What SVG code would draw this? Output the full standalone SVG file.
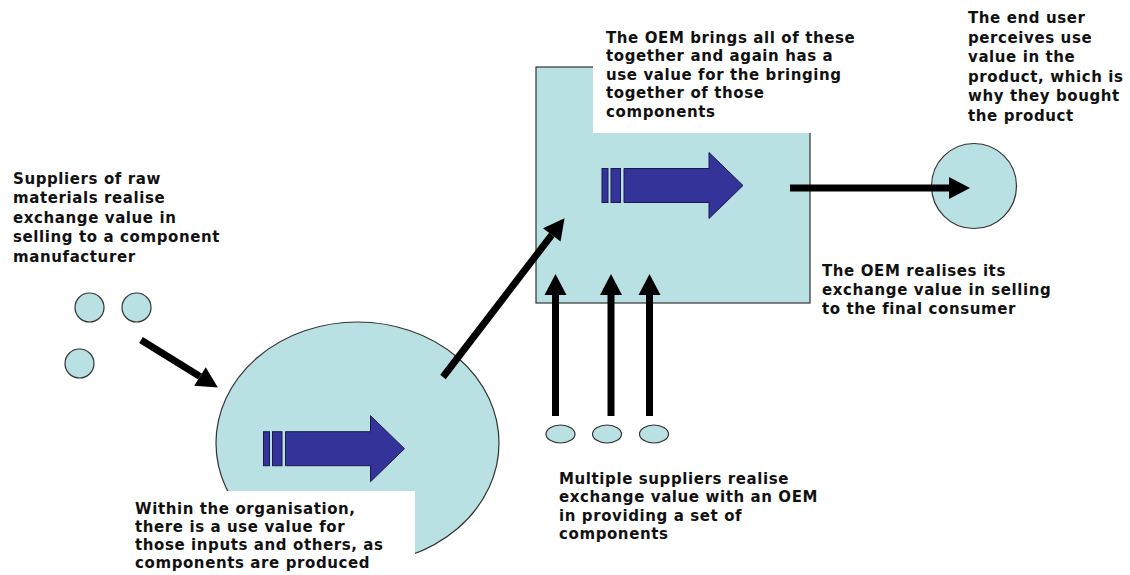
<svg xmlns="http://www.w3.org/2000/svg" width="1130" height="575" viewBox="0 0 1130 575">
  <style>
    .shape { fill: #b9e0e3; stroke: #333333; stroke-width: 1.2; }
    .mask { fill: #ffffff; stroke: none; }
    .flow { fill: none; stroke: #000000; stroke-width: 7; marker-end: url(#head); }
    .label { font-family: "DejaVu Sans", Verdana, sans-serif; font-weight: bold; font-size: 15px; letter-spacing: 0.6px; fill: #111111; }
    .block { fill: #333399; stroke: #1a1a4d; stroke-width: 1; }
  </style>
  <defs>
    <marker id="head" markerUnits="userSpaceOnUse" markerWidth="24" markerHeight="24" refX="0" refY="0" orient="auto" viewBox="0 -12 22 24" overflow="visible">
      <path d="M0,-11 L21,0 L0,11 Z" fill="#000000"/>
    </marker>
    <!-- striped block arrow, origin at left bar, vertical centre at y=0 -->
    <g id="blockArrow">
      <rect class="block" x="0" y="-17" width="6" height="34"/>
      <rect class="block" x="9" y="-17" width="9.5" height="34"/>
      <path class="block" d="M22,-17 L107,-17 L107,-33 L141,0 L107,33 L107,17 L22,17 Z"/>
    </g>
  </defs>

  <rect x="0" y="0" width="1130" height="575" fill="#ffffff"/>

  <!-- raw material suppliers -->
  <g id="raw-suppliers">
    <circle class="shape" cx="89.5" cy="307.5" r="14.5"/>
    <circle class="shape" cx="136.5" cy="307.5" r="14.5"/>
    <circle class="shape" cx="79.5" cy="363.5" r="14.5"/>
    <text class="label">
      <tspan x="13" y="184">Suppliers of raw</tspan>
      <tspan x="13" y="203.4">materials realise</tspan>
      <tspan x="13" y="222.8">exchange value in</tspan>
      <tspan x="13" y="242.2">selling to a component</tspan>
      <tspan x="13" y="261.6">manufacturer</tspan>
    </text>
  </g>

  <!-- component manufacturer -->
  <g id="component-manufacturer">
    <ellipse class="shape" cx="357.5" cy="443" rx="141.5" ry="121"/>
    <use href="#blockArrow" x="263.5" y="448.7"/>
    <rect class="mask" x="128" y="491" width="287" height="84"/>
    <text class="label">
      <tspan x="135" y="513.5">Within the organisation,</tspan>
      <tspan x="135" y="531.8">there is a use value for</tspan>
      <tspan x="135" y="550.1">those inputs and others, as</tspan>
      <tspan x="135" y="568.4">components are produced</tspan>
    </text>
  </g>

  <!-- OEM -->
  <g id="oem">
    <rect class="shape" x="536" y="67" width="274" height="236"/>
    <rect class="mask" x="593" y="0" width="290" height="133"/>
    <use href="#blockArrow" x="602" y="185.5"/>
    <text class="label">
      <tspan x="606" y="42.5">The OEM brings all of these</tspan>
      <tspan x="606" y="61">together and again has a</tspan>
      <tspan x="606" y="79.5">use value for the bringing</tspan>
      <tspan x="606" y="98">together of those</tspan>
      <tspan x="606" y="116.5">components</tspan>
    </text>
    <text class="label">
      <tspan x="822" y="276">The OEM realises its</tspan>
      <tspan x="822" y="295">exchange value in selling</tspan>
      <tspan x="822" y="314">to the final consumer</tspan>
    </text>
  </g>

  <!-- component suppliers -->
  <g id="component-suppliers">
    <ellipse class="shape" cx="560.5" cy="434" rx="14.5" ry="9"/>
    <ellipse class="shape" cx="607" cy="434" rx="14.5" ry="9"/>
    <ellipse class="shape" cx="654" cy="434" rx="14.5" ry="9"/>
    <text class="label">
      <tspan x="559" y="483.5">Multiple suppliers realise</tspan>
      <tspan x="559" y="502">exchange value with an OEM</tspan>
      <tspan x="559" y="520.5">in providing a set of</tspan>
      <tspan x="559" y="539">components</tspan>
    </text>
  </g>

  <!-- end user -->
  <g id="end-user">
    <circle class="shape" cx="974" cy="186" r="42.5"/>
    <text class="label">
      <tspan x="968" y="23">The end user</tspan>
      <tspan x="968" y="42.5">perceives use</tspan>
      <tspan x="968" y="62">value in the</tspan>
      <tspan x="968" y="81.5">product, which is</tspan>
      <tspan x="968" y="101">why they bought</tspan>
      <tspan x="968" y="120.5">the product</tspan>
    </text>
  </g>

  <!-- connectors -->
  <g id="connectors">
    <line class="flow" x1="141" y1="340" x2="200" y2="376.5"/>
    <line class="flow" x1="443" y1="377" x2="551.8" y2="234.9"/>
    <line class="flow" x1="555.5" y1="416" x2="555.5" y2="295"/>
    <line class="flow" x1="611" y1="416" x2="611" y2="295"/>
    <line class="flow" x1="649.5" y1="416" x2="649.5" y2="295"/>
    <line class="flow" x1="790" y1="188" x2="949" y2="188"/>
  </g>
</svg>
